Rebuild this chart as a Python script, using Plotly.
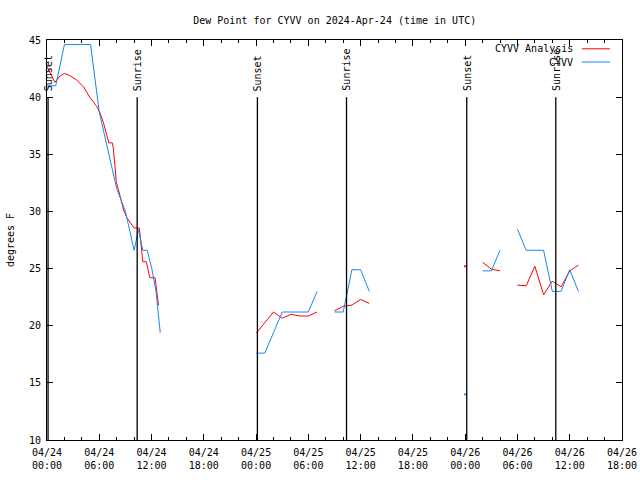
import plotly.graph_objects as go
import pandas as pd

START = pd.Timestamp("2024-04-24 00:00")

# CYVV observations (hours since 2024-04-24 00:00 UTC, dew point F); None = gap
obs_hours = [0, 1, 2, 3, 4, 5, 6, 7, 8, 9, 10, 10.5, 11, 11.5, 12, 12.5, 13, 18,
             24, 25, 26, 27, 28, 29, 30, 31, 32,
             33, 34, 35, 36, 37, 42,
             48, 49,
             50, 51, 52, 53,
             54, 55, 56, 57, 58, 59, 60, 61]
obs_dewpt = [41.0, 41.0, 44.6, 44.6, 44.6, 44.6, 38.7, 35.4, 32.0, 30.0, 26.6, 28.4, 26.6, 26.6, 25.1, 23.1, 19.4, None,
             17.6, 17.6, 19.4, 21.2, 21.2, 21.2, 21.2, 23.0, None,
             21.2, 21.2, 24.9, 24.9, 23.0, None,
             14.0, None,
             24.8, 24.8, 26.6, None,
             28.45, 26.6, 26.6, 26.6, 23.0, 23.0, 24.9, 23.0]

# CYVV analysis
ana_hours = [0, 0.9, 1.5, 2, 2.6, 3.4, 4.2, 4.9, 5.7, 6.1, 6.5, 6.9, 7.1, 7.5, 7.6, 7.8, 7.95,
             8.2, 8.4, 8.8, 9.2, 9.6, 10.0, 10.6, 10.8, 11.0, 11.4, 11.8, 12.4, 12.6, 12.8, 18,
             24, 25, 26, 27, 28, 29, 30, 31, 32,
             33, 34, 35, 36, 37, 42,
             48, 49,
             50, 51, 52, 53,
             54, 55, 56, 57, 58, 59, 60, 61]
ana_dewpt = [42.7, 41.3, 41.85, 42.07, 41.9, 41.5, 40.9, 40.0, 39.2, 38.6, 37.7, 36.5, 36.0, 36.0, 35.6, 34.0, 32.6,
             31.9, 31.3, 30.1, 29.4, 29.0, 28.55, 28.55, 27.1, 25.6, 25.6, 24.2, 24.2, 22.9, 21.8, None,
             19.33, 20.25, 21.2, 20.65, 21.0, 20.85, 20.85, 21.2, None,
             21.3, 21.7, 21.8, 22.3, 21.95, None,
             25.2, None,
             25.55, 24.95, 24.8, None,
             23.55, 23.5, 25.2, 22.7, 23.9, 23.4, 24.8, 25.3]

# Sun events (hours since start)
sun_labels = ["Sunset", "Sunrise", "Sunset", "Sunrise", "Sunset", "Sunrise"]
sun_hours = [0.12, 10.35, 24.15, 34.38, 48.18, 58.4]

x_tick_hours = list(range(0, 67, 6))

def to_time(hours):
    return [START + pd.Timedelta(hours=h) for h in hours]

def isolated(hours, vals):
    xs, ys = [], []
    for i, v in enumerate(vals):
        if v is None:
            continue
        prev_none = i == 0 or vals[i - 1] is None
        next_none = i == len(vals) - 1 or vals[i + 1] is None
        if prev_none and next_none:
            xs.append(hours[i]); ys.append(v)
    return xs, ys

RED = "#ff0000"
BLUE = "#1a86f0"
FONT = "DejaVu Sans Mono"

fig = go.Figure()
fig.add_trace(go.Scatter(x=to_time(ana_hours), y=ana_dewpt, mode="lines",
                         line=dict(color=RED, width=1), connectgaps=False,
                         name="CYVV Analysis", showlegend=False))
fig.add_trace(go.Scatter(x=to_time(obs_hours), y=obs_dewpt, mode="lines",
                         line=dict(color=BLUE, width=1), connectgaps=False,
                         name="CYVV", showlegend=False))
for hrs, vals, col in [(ana_hours, ana_dewpt, RED), (obs_hours, obs_dewpt, BLUE)]:
    ix, iy = isolated(hrs, vals)
    fig.add_trace(go.Scatter(x=to_time(ix), y=iy, mode="markers",
                             marker=dict(color=col, size=2, symbol="square"),
                             showlegend=False, hoverinfo="skip"))

for lab, h in zip(sun_labels, sun_hours):
    t = START + pd.Timedelta(hours=h)
    fig.add_shape(type="line", xref="x", yref="y", x0=t, x1=t, y0=10, y1=40,
                  line=dict(color="black", width=1.3))
    fig.add_annotation(x=t, y=40, xref="x", yref="y", text=lab, showarrow=False,
                       textangle=-90, yanchor="bottom", xanchor="center", yshift=4,
                       font=dict(family=FONT, size=10, color="black"))

# legend (gnuplot style: text right, sample to the right)
for name, col, py in [("CYVV Analysis", RED, 0.978), ("CYVV", BLUE, 0.945)]:
    fig.add_annotation(x=0.918, y=py, xref="paper", yref="paper", text=name,
                       showarrow=False, xanchor="right", yanchor="middle",
                       font=dict(family=FONT, size=10, color="black"))
    fig.add_shape(type="line", xref="paper", yref="paper", x0=0.930, x1=0.979,
                  y0=py, y1=py, line=dict(color=col, width=1))

tickvals = to_time(x_tick_hours)
ticktext = [t.strftime("%m/%d") + "<br>" + t.strftime("%H:%M") for t in tickvals]

fig.update_layout(
    width=640, height=480,
    margin=dict(l=47, r=18, t=40, b=40),
    paper_bgcolor="white", plot_bgcolor="white",
    title=dict(text="Dew Point for CYVV on 2024-Apr-24 (time in UTC)",
               x=0.523, xanchor="center", y=0.958, yanchor="middle",
               font=dict(family=FONT, size=10, color="black")),
    font=dict(family=FONT, size=10, color="black"),
    showlegend=False,
)
fig.update_xaxes(
    range=[START, START + pd.Timedelta(hours=66)],
    tickvals=tickvals, ticktext=ticktext,
    ticks="inside", ticklen=6, tickcolor="black", tickwidth=1,
    minor=dict(ticks="inside", ticklen=3, dtick=2 * 3600 * 1000, tickcolor="black"),
    showline=True, linecolor="black", linewidth=1, mirror="allticks",
    showgrid=False, zeroline=False, automargin=False, ticklabelstandoff=3,
    tickfont=dict(family=FONT, size=10, color="black"),
)
fig.update_yaxes(
    range=[10, 45], dtick=5, tick0=10,
    ticks="inside", ticklen=6, tickcolor="black", tickwidth=1,
    showline=True, linecolor="black", linewidth=1, mirror="allticks",
    showgrid=False, zeroline=False, automargin=False, ticklabelstandoff=3,
    title=dict(text="degrees F", standoff=12, font=dict(family=FONT, size=10, color="black")),
    tickfont=dict(family=FONT, size=10, color="black"),
)

fig.write_html("out.html", config={"displayModeBar": False},
               post_script="document.body.style.margin='0';document.body.style.padding='0';")
